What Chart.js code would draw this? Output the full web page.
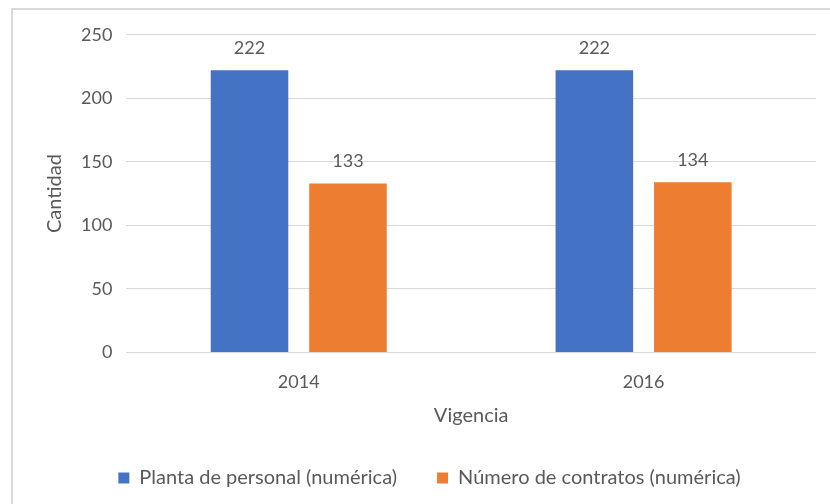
<!DOCTYPE html>
<html>
<head>
<meta charset="utf-8">
<script src="https://cdn.jsdelivr.net/npm/chart.js@4"></script>
<style>
  html, body { margin: 0; padding: 0; background: #fff; overflow: hidden; }
  #box {
    position: absolute; left: 11px; top: 8px;
    width: 842px; height: 510px;
    border: 2px solid #d9d9d9; box-sizing: border-box;
  }
</style>
</head>
<body>
<div id="box"><canvas id="chart"></canvas></div>
<script>
const years = ['2014', '2016'];
const planta = [222, 222];
const contratos = [133, 134];
const seriesNames = ['Planta de personal (numérica)', 'Número de contratos (numérica)'];
const yTicks = [0, 50, 100, 150, 200, 250];

const textColor = '#595959';
const fontFamily = 'Lato, "Open Sans", sans-serif';

// etiquetas encima de cada barra
const valueLabels = {
    id: 'valueLabels',
    afterDatasetsDraw(chart) {
        const ctx = chart.ctx;
        ctx.save();
        ctx.fillStyle = textColor;
        ctx.font = '18px ' + fontFamily;
        ctx.textAlign = 'center';
        ctx.textBaseline = 'bottom';
        chart.data.datasets.forEach((ds, i) => {
            chart.getDatasetMeta(i).data.forEach((bar, j) => {
                ctx.fillText(ds.data[j], bar.x, bar.y - 13);
            });
        });
        ctx.restore();
    }
};

new Chart(document.getElementById('chart'), {
    type: 'bar',
    data: {
        labels: years,
        datasets: [{
            label: seriesNames[0],
            data: planta,
            backgroundColor: '#4472c4',
            categoryPercentage: 0.571,
            barPercentage: 0.788
        }, {
            label: seriesNames[1],
            data: contratos,
            backgroundColor: '#ed7d31',
            categoryPercentage: 0.571,
            barPercentage: 0.788
        }]
    },
    options: {
        responsive: true,
        maintainAspectRatio: false,
        animation: false,
        layout: {
            padding: { top: 13, right: 35, left: 30, bottom: 18 }
        },
        plugins: {
            legend: {
                position: 'bottom',
                labels: {
                    color: textColor,
                    font: { family: fontFamily, size: 20 },
                    boxWidth: 11,
                    boxHeight: 11,
                    padding: 40
                }
            },
            tooltip: { enabled: false }
        },
        scales: {
            x: {
                grid: { display: false },
                border: { display: false },
                ticks: { color: textColor, font: { family: fontFamily, size: 18 }, padding: 11 },
                title: {
                    display: true,
                    text: 'Vigencia',
                    color: textColor,
                    font: { family: fontFamily, size: 20 },
                    padding: { top: 0, bottom: 0 }
                }
            },
            y: {
                min: 0,
                max: 250,
                afterBuildTicks: (axis) => { axis.ticks = yTicks.map(v => ({ value: v })); },
                grid: { color: '#d9d9d9', lineWidth: 1, drawTicks: false },
                border: { display: false },
                ticks: { color: textColor, font: { family: fontFamily, size: 18 }, padding: 14 },
                title: {
                    display: true,
                    text: 'Cantidad',
                    color: textColor,
                    font: { family: fontFamily, size: 20 },
                    padding: { top: 0, bottom: 0 }
                }
            }
        }
    },
    plugins: [valueLabels]
});
</script>
</body>
</html>
